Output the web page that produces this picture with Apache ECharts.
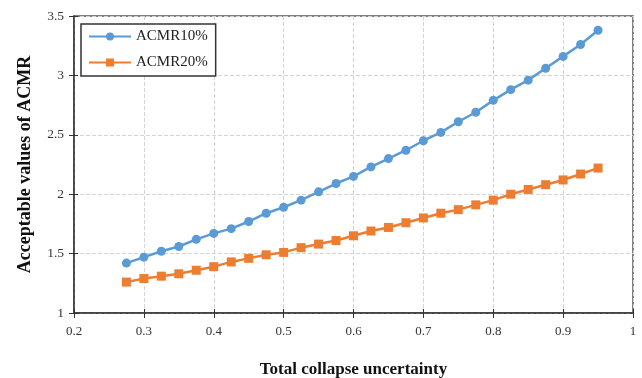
<!DOCTYPE html>
<html><head><meta charset="utf-8">
<script src="https://cdn.jsdelivr.net/npm/echarts@6/dist/echarts.min.js"></script>
<style>html,body{margin:0;padding:0;background:#fff}#c{width:642px;height:378px}</style>
</head><body><div id="c"></div>
<script>
const xValues = [0.275,0.3,0.325,0.35,0.375,0.4,0.425,0.45,0.475,0.5,0.525,0.55,0.575,0.6,0.625,0.65,0.675,0.7,0.725,0.75,0.775,0.8,0.825,0.85,0.875,0.9,0.925,0.95];
const acmr10 = [1.42,1.47,1.52,1.56,1.62,1.67,1.71,1.77,1.84,1.89,1.95,2.02,2.09,2.15,2.23,2.30,2.37,2.45,2.52,2.61,2.69,2.79,2.88,2.96,3.06,3.16,3.26,3.38];
const acmr20 = [1.26,1.29,1.31,1.33,1.36,1.39,1.43,1.46,1.49,1.51,1.55,1.58,1.61,1.65,1.69,1.72,1.76,1.80,1.84,1.87,1.91,1.95,2.00,2.04,2.08,2.12,2.17,2.22];
const seriesNames = ['ACMR10%','ACMR20%'];
const xTitle = 'Total collapse uncertainty';
const yTitle = 'Acceptable values of ACMR';

const font = 'Liberation Serif';
const chart = echarts.init(document.getElementById('c'));
const axisCol = '#333';
chart.setOption({
  animation:false,
  grid:{left:74,right:9,top:16,bottom:65,show:true,borderColor:'#555',borderWidth:1.5,outerBoundsMode:'none',containLabel:false},
  legend:{
    left:81,top:24,orient:'vertical',
    data:seriesNames,
    borderColor:'#333',borderWidth:1.5,borderRadius:0,
    padding:[5,8,6,7],itemGap:11,itemWidth:42,itemHeight:10,
    textStyle:{fontFamily:font,fontSize:15,color:'#222'},
    backgroundColor:'#fff'
  },
  xAxis:[{
    type:'value',min:0.2,max:1,interval:0.1,
    name:xTitle,nameLocation:'middle',nameGap:48,
    nameTextStyle:{fontFamily:font,fontSize:17,fontWeight:'bold',color:'#111'},
    axisLine:{onZero:false,lineStyle:{color:axisCol,width:1.5}},
    axisTick:{show:true,length:5,lineStyle:{color:axisCol}},
    axisLabel:{fontFamily:font,fontSize:13,color:'#333',margin:12},
    splitLine:{show:true,lineStyle:{type:'dashed',color:'#d4d4d4'}}
  },{
    type:'value',min:0.2,max:1,interval:0.1,position:'bottom',
    axisLine:{show:false},axisLabel:{show:false},splitLine:{show:false},
    axisTick:{show:true,inside:true,length:4,lineStyle:{color:axisCol}}
  }],
  yAxis:[{
    type:'value',min:1,max:3.5,interval:0.5,
    name:yTitle,nameLocation:'middle',nameGap:40,
    nameTextStyle:{fontFamily:font,fontSize:18,fontWeight:'bold',color:'#111'},
    axisLine:{onZero:false,lineStyle:{color:axisCol,width:1.5}},
    axisTick:{show:true,length:5,lineStyle:{color:axisCol}},
    axisLabel:{fontFamily:font,fontSize:13.5,color:'#333',margin:10},
    splitLine:{show:true,lineStyle:{type:'dashed',color:'#d4d4d4'}}
  },{
    type:'value',min:1,max:3.5,interval:0.5,position:'left',
    axisLine:{show:false},axisLabel:{show:false},splitLine:{show:false},
    axisTick:{show:true,inside:true,length:4,lineStyle:{color:axisCol}}
  }],
  series:[
    {name:seriesNames[0],type:'line',data:xValues.map((x,i)=>[x,acmr10[i]]),
     symbol:'circle',symbolSize:9,itemStyle:{color:'#5B9BD5'},lineStyle:{color:'#5B9BD5',width:2.5}},
    {name:seriesNames[1],type:'line',data:xValues.map((x,i)=>[x,acmr20[i]]),
     symbol:'rect',symbolSize:9,itemStyle:{color:'#ED7D31'},lineStyle:{color:'#ED7D31',width:2.5}}
  ]
});
</script></body></html>
